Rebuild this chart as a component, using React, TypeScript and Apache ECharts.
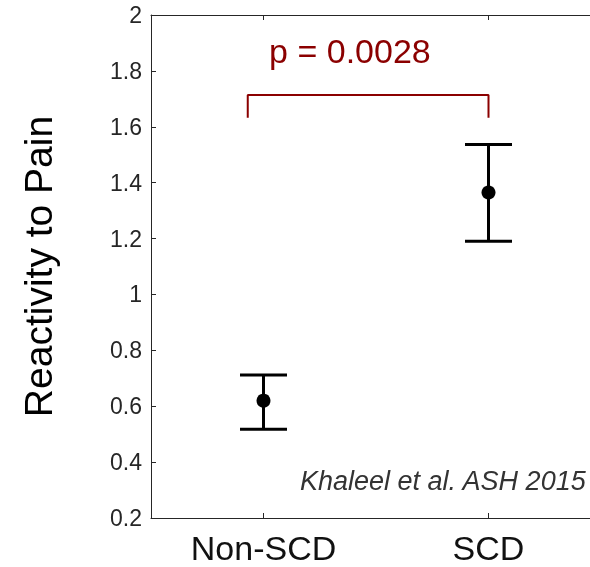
import React, { useEffect, useRef } from "react";
import * as echarts from "echarts";

const categories = ["Non-SCD", "SCD"];
const categoryPositions = [1, 2];
const means = [0.62, 1.365];
const lowerBounds = [0.518, 1.19];
const upperBounds = [0.712, 1.537];
const yMin = 0.2;
const yMax = 2;
const yStep = 0.2;
const bracketX = [0.93, 2.0];
const bracketLegY = 1.632;
const bracketTopY = 1.714;
const pValueLabel = "p = 0.0028";
const pValuePos = [1.384, 1.87];
const yTitle = "Reactivity to Pain";
const citation = "Khaleel et al. ASH 2015";

const FONT = "'Liberation Sans', Arial, Helvetica, sans-serif";
const AXIS_COLOR = "#262626";
const RED = "#8b0000";

export default function App() {
  const ref = useRef<HTMLDivElement>(null);
  useEffect(() => {
    if (!ref.current) return;
    document.body.style.margin = "0";
    document.body.style.overflow = "hidden";
    const chart = echarts.init(ref.current, null, { renderer: "svg" });
    const errData = categoryPositions.map((x, i) => [x, lowerBounds[i], upperBounds[i]]);
    const meanData = categoryPositions.map((x, i) => [x, means[i]]);
    const bracketData = [
      [bracketX[0], bracketLegY],
      [bracketX[0], bracketTopY],
      [bracketX[1], bracketTopY],
      [bracketX[1], bracketLegY],
    ];
    chart.setOption({
      animation: false,
      textStyle: { fontFamily: FONT },
      grid: { left: 151, top: 15, right: 0, bottom: 49, containLabel: false },
      xAxis: [
        {
          type: "value",
          min: 0.5,
          max: 2.5,
          position: "bottom",
          axisLine: { show: true, lineStyle: { color: AXIS_COLOR, width: 1 } },
          axisTick: { show: true, inside: true, length: 5, customValues: categoryPositions, lineStyle: { color: AXIS_COLOR } },
          axisLabel: {
            show: true,
            customValues: categoryPositions,
            formatter: (v: number) => categories[categoryPositions.indexOf(Math.round(v))] ?? "",
            fontSize: 34,
            lineHeight: 34,
            color: "#111",
            margin: 13,
            fontFamily: FONT,
          },
          splitLine: { show: false },
        },
        {
          type: "value",
          min: 0.5,
          max: 2.5,
          position: "top",
          axisLine: { show: true, lineStyle: { color: AXIS_COLOR, width: 1 } },
          axisTick: { show: true, inside: true, length: 5, customValues: categoryPositions, lineStyle: { color: AXIS_COLOR } },
          axisLabel: { show: false },
          splitLine: { show: false },
        },
      ],
      yAxis: {
        type: "value",
        min: yMin,
        max: yMax,
        interval: yStep,
        name: yTitle,
        nameLocation: "middle",
        nameRotate: 90,
        nameGap: 93,
        nameTextStyle: { fontSize: 39, color: "#000", fontFamily: FONT },
        axisLine: { show: true, lineStyle: { color: AXIS_COLOR, width: 1 } },
        axisTick: { show: true, inside: true, length: 5, lineStyle: { color: AXIS_COLOR } },
        axisLabel: {
          fontSize: 23,
          color: AXIS_COLOR,
          margin: 9,
          fontFamily: FONT,
          formatter: (v: number) => String(Math.round(v * 10) / 10),
        },
        splitLine: { show: false },
      },
      series: [
        {
          type: "line",
          data: bracketData,
          symbol: "none",
          lineStyle: { color: RED, width: 2 },
          silent: true,
        },
        {
          type: "custom",
          data: errData,
          encode: { x: 0, y: [1, 2] },
          renderItem: (params: any, api: any) => {
            const x = api.value(0);
            const pLo = api.coord([x, api.value(1)]);
            const pHi = api.coord([x, api.value(2)]);
            const hw = 23.5;
            const st = { stroke: "#000", lineWidth: 3 };
            return {
              type: "group",
              children: [
                { type: "line", shape: { x1: pLo[0], y1: pLo[1], x2: pHi[0], y2: pHi[1] }, style: st },
                { type: "line", shape: { x1: pLo[0] - hw, y1: pLo[1], x2: pLo[0] + hw, y2: pLo[1] }, style: st },
                { type: "line", shape: { x1: pHi[0] - hw, y1: pHi[1], x2: pHi[0] + hw, y2: pHi[1] }, style: st },
              ],
            };
          },
        },
        {
          type: "scatter",
          data: meanData,
          symbol: "circle",
          symbolSize: 14,
          itemStyle: { color: "#000", opacity: 1 },
        },
        {
          type: "scatter",
          data: [pValuePos],
          symbolSize: 1,
          itemStyle: { color: "transparent", opacity: 1 },
          label: {
            show: true,
            position: "inside",
            formatter: pValueLabel,
            fontSize: 34,
            color: RED,
            opacity: 1,
            fontFamily: FONT,
          },
        },
      ],
      graphic: [
        {
          type: "text",
          left: 300,
          top: 467,
          style: {
            text: citation,
            font: `italic 27px ${FONT}`,
            fill: "#333",
          },
        },
      ],
    });
    return () => chart.dispose();
  }, []);
  return (
    <div style={{ position: "fixed", left: 0, top: 0, width: 590, height: 567, overflow: "hidden" }}>
      <div ref={ref} style={{ width: 601, height: 567 }} />
    </div>
  );
}
